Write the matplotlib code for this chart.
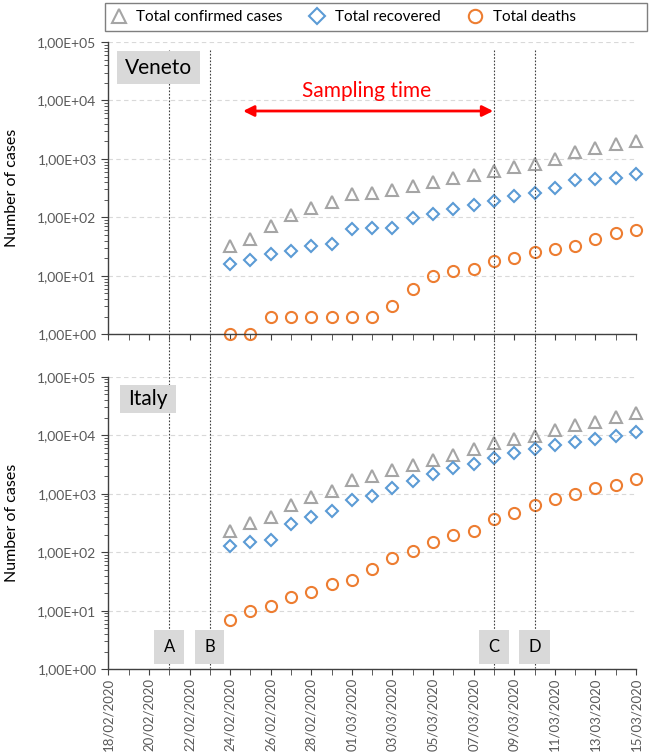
import numpy as np
import pandas as pd
import matplotlib
matplotlib.use('Agg')
import matplotlib.pyplot as plt
import matplotlib.dates as mdates
from matplotlib.patches import Rectangle
from matplotlib.ticker import FixedLocator, LogLocator, NullFormatter, FuncFormatter

plt.rcParams['font.family'] = ['Lato', 'DejaVu Sans']

# data, one value per day from 24/02 to 15/03/2020
days = pd.date_range('2020-02-24', '2020-03-15', freq='D')

veneto_confirmed = [32, 42, 70, 108, 145, 186, 253, 265, 295, 346, 398, 466, 534, 630,
                    716, 816, 980, 1310, 1530, 1830, 2040]
veneto_recovered = [16, 19, 24, 27, 33, 35, 63, 66, 67, 98, 115, 140, 160, 192,
                    233, 266, 323, 436, 460, 473, 545]
veneto_deaths = [1, 1, 2, 2, 2, 2, 2, 2, 3, 6, 10, 12, 13, 18,
                 20, 26, 29, 32, 42, 54, 62]

italy_confirmed = [228, 316, 397, 643, 870, 1100, 1690, 2030, 2500, 3080, 3820, 4530, 5730, 7250,
                   8720, 9790, 12300, 14900, 17200, 20800, 24300]
italy_recovered = [128, 149, 164, 304, 405, 506, 773, 903, 1250, 1670, 2140, 2810, 3180, 4120,
                   5030, 5800, 6800, 7740, 8610, 9790, 11350]
italy_deaths = [7, 10, 12, 17, 21, 29, 34, 52, 79, 107, 148, 197, 233, 366,
                463, 631, 822, 1000, 1260, 1410, 1760]

event_labels = ['A', 'B', 'C', 'D']
event_dates = pd.to_datetime(['2020-02-21', '2020-02-23', '2020-03-08', '2020-03-10'])

x_start = pd.Timestamp('2020-02-18')
x_end = pd.Timestamp('2020-03-15')
all_days = pd.date_range(x_start, x_end, freq='D')

c_conf = '#a5a5a5'
c_rec = '#5b9bd5'
c_dth = '#ed7d31'
txt_gray = '#595959'
box_gray = '#d9d9d9'

W, H = 652, 753
fig = plt.figure(figsize=(W / 100, H / 100), dpi=100)

left = 108.4 / W
right = 636 / W
ax_top = fig.add_axes([left, 1 - 334.3 / H, right - left, (334.3 - 42) / H])
ax_bot = fig.add_axes([left, 1 - 669.2 / H, right - left, (669.2 - 376.8) / H])


def sci_fmt(v, pos):
    return ('%.2E' % v).replace('.', ',')


def style_axis(ax, show_labels):
    ax.set_yscale('log')
    ax.set_ylim(1, 1e5)
    ax.set_xlim(mdates.date2num(x_start), mdates.date2num(x_end))
    ax.yaxis.set_major_locator(LogLocator(base=10, numticks=10))
    ax.yaxis.set_minor_locator(LogLocator(base=10, subs=np.arange(2, 10), numticks=10))
    ax.yaxis.set_major_formatter(FuncFormatter(sci_fmt))
    ax.yaxis.set_minor_formatter(NullFormatter())
    ax.grid(axis='y', which='major', color='#d9d9d9', linestyle=(0, (4, 3)), linewidth=0.8)
    ax.set_axisbelow(True)
    for s in ['top', 'right']:
        ax.spines[s].set_visible(False)
    for s in ['left', 'bottom']:
        ax.spines[s].set_color('#404040')
        ax.spines[s].set_linewidth(1.0)
    ax.xaxis.set_major_locator(FixedLocator(mdates.date2num(all_days[::2])))
    ax.xaxis.set_minor_locator(FixedLocator(mdates.date2num(all_days)))
    ax.tick_params(axis='x', which='both', length=4, color='#404040', direction='out')
    ax.tick_params(axis='y', which='major', length=5, color='#404040', labelsize=10, labelcolor=txt_gray)
    ax.tick_params(axis='y', which='minor', length=3, color='#404040')
    if show_labels:
        ax.xaxis.set_major_formatter(mdates.DateFormatter('%d/%m/%Y'))
        ax.tick_params(axis='x', labelsize=9.5, labelcolor=txt_gray, labelrotation=90, pad=2)
    else:
        ax.tick_params(axis='x', labelbottom=False)
    ax.set_ylabel('Number of cases', fontsize=11.5)
    ax.yaxis.set_label_coords(-0.17, 0.5)


def plot_series(ax, conf, rec, dth):
    kw = dict(linestyle='none', markerfacecolor='none', markeredgewidth=1.5, clip_on=False)
    ax.plot(days, conf, marker='^', markersize=8.5, markeredgecolor=c_conf, label='Total confirmed cases', **kw)
    ax.plot(days, rec, marker='D', markersize=6.5, markeredgecolor=c_rec, label='Total recovered', **kw)
    ax.plot(days, dth, marker='o', markersize=8, markeredgecolor=c_dth, label='Total deaths', **kw)


style_axis(ax_top, False)
style_axis(ax_bot, True)
plot_series(ax_top, veneto_confirmed, veneto_recovered, veneto_deaths)
plot_series(ax_bot, italy_confirmed, italy_recovered, italy_deaths)

# sampling time arrow
ax_top.annotate('', xy=(mdates.date2num(pd.Timestamp('2020-03-08')) + 0.1, 6600),
                xytext=(mdates.date2num(pd.Timestamp('2020-02-24')) + 0.5, 6600),
                arrowprops=dict(arrowstyle='<|-|>', color='red', lw=2, mutation_scale=16),
                zorder=6)
ax_top.text(mdates.date2num(pd.Timestamp('2020-03-01')) + 0.7, 14500, 'Sampling time',
            color='red', fontsize=15, ha='center', va='center')

# dotted event lines running through both panels
ov = fig.add_axes([left, 0, right - left, 1], zorder=3)
ov.set_xlim(mdates.date2num(x_start), mdates.date2num(x_end))
ov.set_ylim(H, 0)
ov.axis('off')
for lab, d in zip(event_labels, event_dates):
    xd = mdates.date2num(d)
    ov.plot([xd, xd], [50, 668], color='#404040', linestyle=(0, (1.5, 1.5)), linewidth=0.8)
    ov.text(xd, 647, lab, fontsize=12, ha='center', va='center',
            bbox=dict(boxstyle='square,pad=0.55', facecolor=box_gray, edgecolor='none'), zorder=5)

# region labels and legend frame, in figure pixels
px = fig.add_axes([0, 0, 1, 1], zorder=4)
px.set_xlim(0, W)
px.set_ylim(H, 0)
px.axis('off')
px.add_patch(Rectangle((117, 51), 83, 33, facecolor=box_gray, edgecolor='none'))
px.text(158.5, 67.5, 'Veneto', fontsize=15, ha='center', va='center')
px.add_patch(Rectangle((120, 385), 56, 28, facecolor=box_gray, edgecolor='none'))
px.text(148, 399, 'Italy', fontsize=15, ha='center', va='center')
px.add_patch(Rectangle((105, 3), 542, 28, facecolor='none', edgecolor='#7f7f7f', linewidth=1))

handles, labels = ax_top.get_legend_handles_labels()
fig.legend(handles, labels, loc='center left', bbox_to_anchor=(109 / W, 1 - 17 / H),
           ncol=3, frameon=False, fontsize=11, borderaxespad=0, handletextpad=0.5,
           handlelength=1.3, columnspacing=1.6, borderpad=0, markerscale=1.2)

fig.savefig('out.png', dpi=100)
